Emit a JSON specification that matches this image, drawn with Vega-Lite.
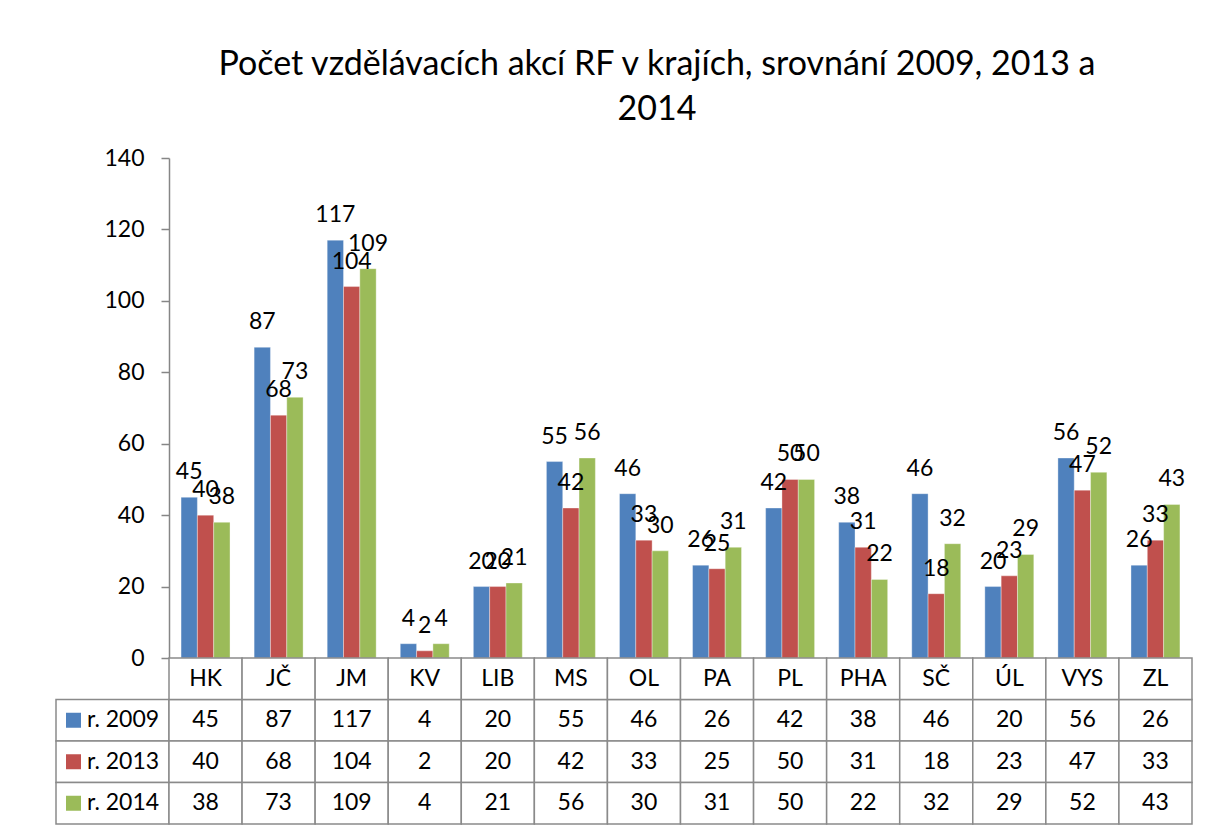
{
  "$schema": "https://vega.github.io/schema/vega-lite/v6.json",
  "background": "white",
  "padding": {"left": 55, "top": 48, "right": 5, "bottom": 2},
  "datasets": {
    "d": [
      {"kraj": "HK", "rok": "r. 2009", "pocet": 45}, {"kraj": "HK", "rok": "r. 2013", "pocet": 40}, {"kraj": "HK", "rok": "r. 2014", "pocet": 38},
      {"kraj": "JČ", "rok": "r. 2009", "pocet": 87}, {"kraj": "JČ", "rok": "r. 2013", "pocet": 68}, {"kraj": "JČ", "rok": "r. 2014", "pocet": 73},
      {"kraj": "JM", "rok": "r. 2009", "pocet": 117}, {"kraj": "JM", "rok": "r. 2013", "pocet": 104}, {"kraj": "JM", "rok": "r. 2014", "pocet": 109},
      {"kraj": "KV", "rok": "r. 2009", "pocet": 4}, {"kraj": "KV", "rok": "r. 2013", "pocet": 2}, {"kraj": "KV", "rok": "r. 2014", "pocet": 4},
      {"kraj": "LIB", "rok": "r. 2009", "pocet": 20}, {"kraj": "LIB", "rok": "r. 2013", "pocet": 20}, {"kraj": "LIB", "rok": "r. 2014", "pocet": 21},
      {"kraj": "MS", "rok": "r. 2009", "pocet": 55}, {"kraj": "MS", "rok": "r. 2013", "pocet": 42}, {"kraj": "MS", "rok": "r. 2014", "pocet": 56},
      {"kraj": "OL", "rok": "r. 2009", "pocet": 46}, {"kraj": "OL", "rok": "r. 2013", "pocet": 33}, {"kraj": "OL", "rok": "r. 2014", "pocet": 30},
      {"kraj": "PA", "rok": "r. 2009", "pocet": 26}, {"kraj": "PA", "rok": "r. 2013", "pocet": 25}, {"kraj": "PA", "rok": "r. 2014", "pocet": 31},
      {"kraj": "PL", "rok": "r. 2009", "pocet": 42}, {"kraj": "PL", "rok": "r. 2013", "pocet": 50}, {"kraj": "PL", "rok": "r. 2014", "pocet": 50},
      {"kraj": "PHA", "rok": "r. 2009", "pocet": 38}, {"kraj": "PHA", "rok": "r. 2013", "pocet": 31}, {"kraj": "PHA", "rok": "r. 2014", "pocet": 22},
      {"kraj": "SČ", "rok": "r. 2009", "pocet": 46}, {"kraj": "SČ", "rok": "r. 2013", "pocet": 18}, {"kraj": "SČ", "rok": "r. 2014", "pocet": 32},
      {"kraj": "ÚL", "rok": "r. 2009", "pocet": 20}, {"kraj": "ÚL", "rok": "r. 2013", "pocet": 23}, {"kraj": "ÚL", "rok": "r. 2014", "pocet": 29},
      {"kraj": "VYS", "rok": "r. 2009", "pocet": 56}, {"kraj": "VYS", "rok": "r. 2013", "pocet": 47}, {"kraj": "VYS", "rok": "r. 2014", "pocet": 52},
      {"kraj": "ZL", "rok": "r. 2009", "pocet": 26}, {"kraj": "ZL", "rok": "r. 2013", "pocet": 33}, {"kraj": "ZL", "rok": "r. 2014", "pocet": 43}
    ]
  },
  "title": {
    "text": ["Počet vzdělávacích akcí RF v krajích, srovnání 2009, 2013 a", "2014"],
    "anchor": "start",
    "align": "center",
    "frame": "group",
    "font": "Lato",
    "fontSize": 34,
    "fontWeight": "normal",
    "color": "black",
    "lineHeight": 45,
    "dx": 601,
    "offset": 20
  },
  "config": {
    "view": {"stroke": null},
    "font": "Lato",
    "text": {"font": "Lato", "fontSize": 22, "color": "black"}
  },
  "bounds": "flush",
  "columns": 2,
  "spacing": {"row": 0, "column": 0},
  "concat": [
    {
      "width": 113,
      "height": 500,
      "data": {"values": []},
      "mark": "point"
    },
    {
      "width": 1023,
      "height": 500,
      "data": {"name": "d"},
      "encoding": {
        "x": {
          "field": "kraj",
          "type": "nominal",
          "sort": ["HK", "JČ", "JM", "KV", "LIB", "MS", "OL", "PA", "PL", "PHA", "SČ", "ÚL", "VYS", "ZL"],
          "scale": {"paddingInner": 0.33, "paddingOuter": 0.165},
          "axis": null
        },
        "xOffset": {"field": "rok", "type": "nominal", "sort": ["r. 2009", "r. 2013", "r. 2014"]},
        "y": {
          "field": "pocet",
          "type": "quantitative",
          "scale": {"domain": [0, 140], "nice": false},
          "axis": {
            "title": null,
            "values": [0, 20, 40, 60, 80, 100, 120, 140],
            "grid": false,
            "tickSize": 8,
            "tickColor": "#868686",
            "tickWidth": 1.5,
            "domainColor": "#868686",
            "domainWidth": 1.5,
            "labelPadding": 17,
            "labelFont": "Lato",
            "labelFontSize": 23,
            "labelColor": "black"
          }
        }
      },
      "layer": [
        {
          "mark": {"type": "bar", "stroke": "#ffffff", "strokeOpacity": 0.35, "strokeWidth": 1},
          "encoding": {
            "color": {
              "field": "rok",
              "type": "nominal",
              "scale": {"domain": ["r. 2009", "r. 2013", "r. 2014"], "range": ["#4F81BD", "#C0504D", "#9BBB59"]},
              "legend": null
            }
          }
        },
        {
          "mark": {"type": "text", "baseline": "alphabetic", "dy": -18, "fontSize": 23},
          "encoding": {"text": {"field": "pocet", "type": "quantitative"}}
        }
      ]
    },
    {
      "width": 113,
      "height": 166,
      "data": {"name": "d"},
      "transform": [{"filter": "datum.kraj === 'HK'"}],
      "encoding": {
        "y": {
          "field": "rok",
          "type": "nominal",
          "scale": {"domain": ["hdr", "r. 2009", "r. 2013", "r. 2014"], "padding": 0},
          "axis": null
        }
      },
      "layer": [
        {
          "mark": {"type": "rect", "fill": "white", "stroke": "#8a8a8a", "strokeWidth": 1.5}
        },
        {
          "mark": {"type": "square", "filled": true, "size": 225, "opacity": 1},
          "encoding": {
            "x": {"value": 17.5},
            "color": {
              "field": "rok",
              "type": "nominal",
              "scale": {"domain": ["r. 2009", "r. 2013", "r. 2014"], "range": ["#4F81BD", "#C0504D", "#9BBB59"]},
              "legend": null
            }
          }
        },
        {
          "mark": {"type": "text", "align": "left", "baseline": "middle", "fontSize": 23},
          "encoding": {"x": {"value": 31}, "text": {"field": "rok"}}
        }
      ]
    },
    {
      "width": 1023,
      "height": 166,
      "data": {"name": "d"},
      "encoding": {
        "x": {
          "field": "kraj",
          "type": "nominal",
          "sort": ["HK", "JČ", "JM", "KV", "LIB", "MS", "OL", "PA", "PL", "PHA", "SČ", "ÚL", "VYS", "ZL"],
          "scale": {"padding": 0},
          "axis": null
        }
      },
      "layer": [
        {
          "mark": {"type": "rect", "fill": "white", "stroke": "#8a8a8a", "strokeWidth": 1.5},
          "encoding": {
            "y": {
              "field": "rok",
              "type": "nominal",
              "scale": {"domain": ["hdr", "r. 2009", "r. 2013", "r. 2014"], "padding": 0},
              "axis": null
            }
          }
        },
        {
          "transform": [{"filter": "datum.rok === 'r. 2009'"}],
          "mark": {"type": "rect", "fill": "white", "stroke": "#8a8a8a", "strokeWidth": 1.5},
          "encoding": {"y": {"datum": "hdr", "type": "nominal"}}
        },
        {
          "mark": {"type": "text", "baseline": "middle", "fontSize": 23},
          "encoding": {
            "y": {"field": "rok", "type": "nominal"},
            "text": {"field": "pocet", "type": "quantitative"}
          }
        },
        {
          "transform": [{"filter": "datum.rok === 'r. 2009'"}],
          "mark": {"type": "text", "baseline": "middle", "fontSize": 23},
          "encoding": {
            "y": {"datum": "hdr", "type": "nominal"},
            "text": {"field": "kraj", "type": "nominal"}
          }
        }
      ]
    }
  ]
}
